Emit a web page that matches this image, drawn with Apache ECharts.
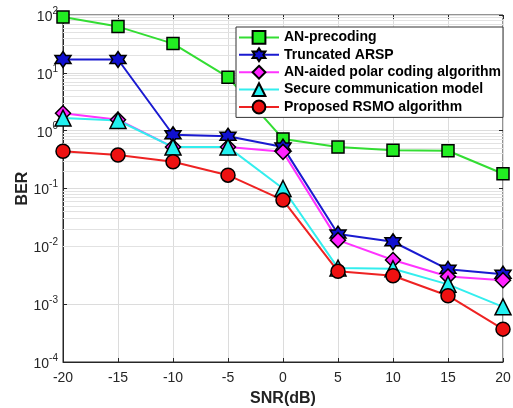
<!DOCTYPE html>
<html>
<head>
<meta charset="utf-8">
<script src="https://cdn.jsdelivr.net/npm/echarts@6/dist/echarts.min.js"></script>
<style>
  html, body { margin: 0; padding: 0; background: #fff; }
  #chart { width: 513px; height: 408px; }
</style>
</head>
<body>
<div id="chart"></div>
<script>
// SNR values on the x axis
var snr = [-20, -15, -10, -5, 0, 5, 10, 15, 20];

// BER
var anPrecoding = [92, 63, 32, 8.4, 0.72, 0.52, 0.46, 0.45, 0.18];
var truncatedArsp = [17, 17, 0.85, 0.8, 0.52, 0.0163, 0.012, 0.004, 0.0033];
var anAidedPolar = [2.0, 1.55, 0.52, 0.52, 0.43, 0.0128, 0.0058, 0.003, 0.0026];
var secureComm = [1.65, 1.5, 0.52, 0.52, 0.1, 0.0042, 0.0041, 0.0022, 0.0009];
var proposedRsmo = [0.44, 0.38, 0.29, 0.17, 0.063, 0.0037, 0.0031, 0.0014, 0.00037];

var names = [
  'AN-precoding',
  'Truncated ARSP',
  'AN-aided polar coding algorithm',
  'Secure communication model',
  'Proposed RSMO algorithm'
];

// minor grid lines 2..9 x 10^k
var minorLines = [];
for (var k = -4; k < 2; k++) {
  for (var m = 2; m <= 9; m++) {
    minorLines.push({ yAxis: m * Math.pow(10, k) });
  }
}

var hexagram = 'path://M0,-10 L2.9,-5 L8.66,-5 L5.8,0 L8.66,5 L2.9,5 L0,10 L-2.9,5 L-8.66,5 L-5.8,0 L-8.66,-5 L-2.9,-5 Z';

function pairs(vals) {
  return snr.map(function (x, i) { return [x, vals[i]]; });
}

function makeSeries(name, vals, color, lineColor, symbol, size) {
  return {
    name: name,
    type: 'line',
    data: pairs(vals),
    symbol: symbol,
    symbolSize: size,
    lineStyle: { color: lineColor, width: 2 },
    itemStyle: { color: color, borderColor: '#000', borderWidth: 1.5 },
    z: 3
  };
}

var series = [
  makeSeries(names[0], anPrecoding, '#22ee22', '#33dd33', 'rect', 12),
  makeSeries(names[1], truncatedArsp, '#1010d0', '#1a1ad0', hexagram, 16),
  makeSeries(names[2], anAidedPolar, '#ff22ff', '#ff33ff', 'diamond', 15),
  makeSeries(names[3], secureComm, '#22f0f0', '#33eeee', 'triangle', 16),
  makeSeries(names[4], proposedRsmo, '#ee1111', '#ee2222', 'circle', 14)
];

// grid lines for the minor decades, drawn by a series with no marks
series.push({
  name: 'minor-grid',
  type: 'line',
  data: [],
  silent: true,
  z: 1,
  markLine: {
    silent: true,
    symbol: 'none',
    label: { show: false },
    animation: false,
    z: 1,
    lineStyle: { color: '#e2e2e2', width: 1, type: 'solid' },
    data: minorLines
  }
});

var supLabel = function (v) {
  var e = Math.round(Math.log10(v));
  return '{b|10}{s|' + e + '}';
};

var chart = echarts.init(document.getElementById('chart'));
chart.setOption({
  animation: false,
  textStyle: { fontFamily: 'Liberation Sans, Arial, sans-serif' },
  grid: {
    left: 63, right: 10, top: 15, bottom: 46,
    outerBoundsMode: 'none',
    containLabel: false,
    show: true, borderColor: '#262626', borderWidth: 1
  },
  legend: {
    orient: 'vertical',
    left: 236, top: 27,
    z: 20,
    data: names,
    itemWidth: 40, itemHeight: 16,
    itemGap: 2.6,
    padding: [3, 2, 3, 2],
    backgroundColor: '#fff',
    borderColor: '#333', borderWidth: 1,
    textStyle: { fontSize: 14, fontWeight: 'bold', color: '#000' }
  },
  xAxis: [{
    type: 'value',
    min: -20, max: 20, interval: 5,
    name: 'SNR(dB)',
    nameLocation: 'middle',
    nameGap: 29,
    nameMoveOverlap: false,
    nameTextStyle: { fontSize: 16, fontWeight: 'bold', color: '#222' },
    axisLine: { onZero: false, lineStyle: { color: '#262626' } },
    axisTick: { inside: true, length: 4, lineStyle: { color: '#262626' } },
    axisLabel: { fontSize: 14, color: '#262626', margin: 9 },
    splitLine: { show: true, lineStyle: { color: '#dcdcdc' } }
  }, {
    type: 'value', position: 'top',
    min: -20, max: 20, interval: 5,
    axisLine: { show: false, onZero: false },
    axisTick: { inside: true, length: 4, lineStyle: { color: '#262626' } },
    axisLabel: { show: false },
    splitLine: { show: false }
  }],
  yAxis: [{
    type: 'log',
    logBase: 10,
    min: 1e-4, max: 1e2,
    name: 'BER',
    nameLocation: 'middle',
    nameGap: 32,
    nameMoveOverlap: false,
    nameTextStyle: { fontSize: 16, fontWeight: 'bold', color: '#222' },
    axisLine: { show: true, onZero: false, lineStyle: { color: '#262626' } },
    axisTick: { inside: true, length: 4, lineStyle: { color: '#262626' } },
    axisLabel: {
      margin: 5,
      formatter: supLabel,
      rich: {
        b: { fontSize: 14, color: '#262626', verticalAlign: 'bottom', lineHeight: 18 },
        s: { fontSize: 10, color: '#262626', verticalAlign: 'top', lineHeight: 18 }
      }
    },
    splitLine: { show: true, lineStyle: { color: '#dcdcdc' } }
  }, {
    type: 'log', position: 'right',
    logBase: 10,
    min: 1e-4, max: 1e2,
    axisLine: { show: false, onZero: false },
    axisTick: { inside: true, length: 4, lineStyle: { color: '#262626' } },
    axisLabel: { show: false },
    splitLine: { show: false }
  }],
  series: series
});
</script>
</body>
</html>
